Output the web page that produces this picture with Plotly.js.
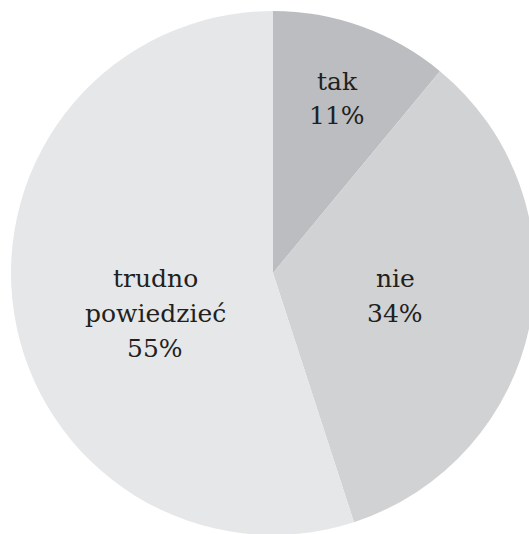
<!DOCTYPE html>
<html>
<head>
<meta charset="utf-8">
<script src="https://cdn.plot.ly/plotly-3.0.1.min.js"></script>
<style>
html,body{margin:0;padding:0;overflow:hidden;background:#fff;}
#chart{width:546px;height:546px;}
</style>
</head>
<body>
<div id="chart"></div>
<script>
const labels = ["tak", "nie", "trudno powiedzieć"];
const labelLines = [["tak"], ["nie"], ["trudno", "powiedzieć"]];
const values = [11, 34, 55];
const colors = ["#bcbdc0", "#d1d2d4", "#e6e7e8"];
// label placement (pixels): center x, first line center y
const labelPos = [[337, 81], [395, 278], [155, 278]];
const lineGap = 35;

const M = 11, S = 524;
const annotations = [];
labelLines.forEach((lines, i) => {
  const all = lines.concat([values[i] + "%"]);
  all.forEach((t, k) => {
    annotations.push({
      text: t,
      xref: "paper", yref: "paper",
      x: (labelPos[i][0] - M) / S,
      y: 1 - (labelPos[i][1] + k * lineGap - M) / S,
      xanchor: "center", yanchor: "middle",
      showarrow: false,
      font: {family: "DejaVu Serif", size: 25, color: "#231f20"}
    });
  });
});

Plotly.newPlot("chart", [{
  type: "pie",
  labels: labels,
  values: values,
  sort: false,
  direction: "clockwise",
  rotation: 0,
  marker: {colors: colors, line: {width: 0}},
  textinfo: "none",
  hoverinfo: "none",
  showlegend: false
}], {
  width: 546, height: 546,
  margin: {l: M, r: M, t: M, b: M, pad: 0},
  paper_bgcolor: "#fff",
  showlegend: false,
  annotations: annotations
}, {displayModeBar: false, staticPlot: true});
</script>
</body>
</html>
